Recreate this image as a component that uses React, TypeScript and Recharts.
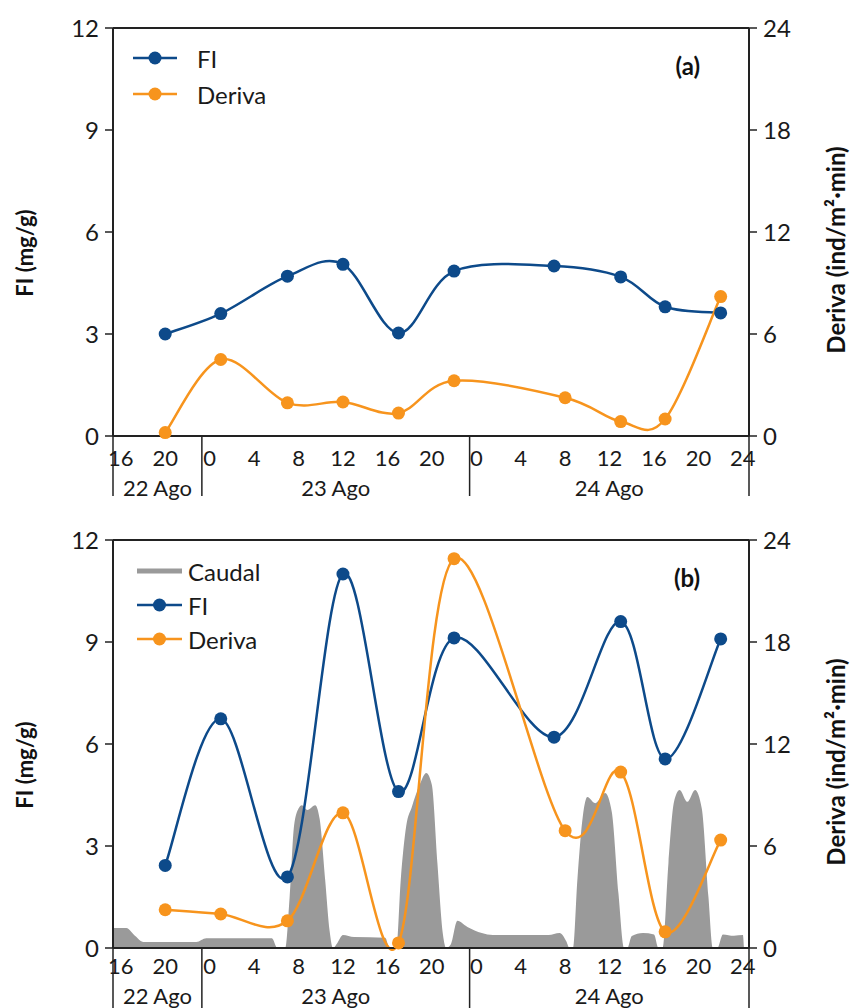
import { Area, ComposedChart, Legend, Line, ReferenceLine, XAxis, YAxis } from 'recharts';

// hours counted from 22 Ago 00:00
const X_MIN = 15.3;
const X_MAX = 72.55;
const HOUR_TICKS = [16, 20, 24, 28, 32, 36, 40, 44, 48, 52, 56, 60, 64, 68, 72];
const DAY_BREAKS = [X_MIN, 23.3, 47.4, X_MAX];
const DAY_LABELS = ['22 Ago', '23 Ago', '24 Ago'];
const FI_TICKS = [0, 3, 6, 9, 12];
const DERIVA_TICKS = [0, 6, 12, 18, 24];

const FI_HOURS = [20, 25, 31, 36, 41, 46, 55, 61, 65, 70];
const DERIVA_HOURS = [20, 25, 31, 36, 41, 46, 56, 61, 65, 70];

const FI_A = [3.0, 3.6, 4.7, 5.05, 3.03, 4.85, 5.0, 4.68, 3.8, 3.62];
const DERIVA_A = [0.2, 4.5, 1.95, 2.0, 1.35, 3.25, 2.25, 0.85, 1.0, 8.2];

const FI_B = [2.43, 6.74, 2.09, 11.0, 4.6, 9.12, 6.2, 9.6, 5.56, 9.09];
const DERIVA_B = [2.25, 2.0, 1.6, 7.95, 0.3, 22.9, 6.9, 10.35, 0.95, 6.35];

const CAUDAL_HOURS = [
  15.3, 16.5, 17.3, 18.0, 22.8, 23.7, 29.6, 30.1, 30.8,
  31.2, 31.6, 32.0, 32.3, 32.8, 33.5, 33.9, 34.4, 34.8, 35.1,
  35.5, 36.0, 37.0, 39.8, 40.2,
  40.8, 41.2, 41.7, 42.2, 42.9, 43.5, 44.0, 44.5, 45.0, 45.3,
  45.7, 46.3, 47.2, 48.5, 49.5, 54.5, 55.5, 56.1, 56.4,
  56.7, 57.1, 57.6, 58.0, 58.7, 59.6, 60.2, 60.8, 61.3,
  61.6, 62.0, 63.0, 64.0, 64.4,
  64.8, 65.3, 65.8, 66.3, 67.0, 67.7, 68.3, 68.9, 69.3,
  69.7, 70.2, 71.2, 72.0, 72.1,
];
const CAUDAL = [
  0.59, 0.59, 0.35, 0.18, 0.18, 0.29, 0.29, 0, 0,
  1.5, 3.6, 4.1, 4.2, 4.06, 4.2, 3.8, 2.0, 0.5, 0,
  0.15, 0.38, 0.32, 0.3, 0,
  0, 2.0, 3.6, 4.15, 4.8, 5.15, 4.8, 2.5, 0.4, 0,
  0.1, 0.8, 0.62, 0.44, 0.38, 0.38, 0.44, 0.2, 0,
  0, 2.0, 3.9, 4.44, 4.26, 4.56, 4.0, 1.6, 0,
  0, 0.35, 0.44, 0.4, 0,
  0, 2.5, 4.3, 4.65, 4.3, 4.65, 4.1, 1.5, 0,
  0, 0.4, 0.36, 0.38, 0,
];

const BLUE = '#0d4a8a';
const ORANGE = '#f7941d';
const GREY = '#9a9a9a';
const AXIS = '#222';
const FONT = 'Lato, "Open Sans", sans-serif';
const SEP_LEN = 60;

const toPoints = (hours: number[], values: number[]) => hours.map((h, i) => ({ h, v: values[i] }));
const DAY_CENTERS = DAY_LABELS.map((_, i) => (DAY_BREAKS[i] + DAY_BREAKS[i + 1]) / 2);

// Excel-like smoothed line (Catmull-Rom through the points)
const smoothCurve = (context: any) => {
  let pts: number[][] = [];
  return {
    areaStart() {},
    areaEnd() {},
    lineStart() {
      pts = [];
    },
    point(x: number, y: number) {
      pts.push([+x, +y]);
    },
    lineEnd() {
      const n = pts.length;
      if (!n) return;
      context.moveTo(pts[0][0], pts[0][1]);
      for (let i = 0; i < n - 1; i++) {
        const p0 = pts[Math.max(i - 1, 0)];
        const p1 = pts[i];
        const p2 = pts[i + 1];
        const p3 = pts[Math.min(i + 2, n - 1)];
        context.bezierCurveTo(
          p1[0] + (p2[0] - p0[0]) / 6,
          p1[1] + (p2[1] - p0[1]) / 6,
          p2[0] - (p3[0] - p1[0]) / 6,
          p2[1] - (p3[1] - p1[1]) / 6,
          p2[0],
          p2[1],
        );
      }
    },
  };
};

// day separators hang below the x axis
const Separator = (props: any) => {
  const bottom = Math.max(props.y1, props.y2);
  return <line x1={props.x1} x2={props.x1} y1={bottom} y2={bottom + SEP_LEN} stroke={AXIS} strokeWidth={1.5} />;
};

const dayLabelShape = (label: string, dy: number) => (props: any) => {
  const bottom = Math.max(props.y1, props.y2);
  return (
    <text
      x={props.x1}
      y={bottom + dy}
      textAnchor="middle"
      dominantBaseline="central"
      fontSize={22}
      fontFamily={FONT}
      fill="#1a1a1a"
    >
      {label}
    </text>
  );
};

const ORDER = ['Caudal', 'FI', 'Deriva'];

function LegendBox({ payload, gap, lineX, textX }: any) {
  const items = [...(payload || [])].sort((a: any, b: any) => ORDER.indexOf(a.value) - ORDER.indexOf(b.value));
  return (
    <svg width={220} height={items.length * gap + 10} style={{ overflow: 'visible' }}>
      {items.map((it: any, i: number) => {
        const y = 18 + i * gap;
        const isArea = it.value === 'Caudal';
        return (
          <g key={it.value}>
            <line
              x1={lineX[0]}
              x2={lineX[1]}
              y1={y}
              y2={y}
              stroke={isArea ? GREY : it.color}
              strokeWidth={isArea ? 5 : 2.5}
            />
            {!isArea && <circle cx={(lineX[0] + lineX[1]) / 2} cy={y} r={6.5} fill={it.color} />}
            <text x={textX} y={y} dominantBaseline="central" fontSize={24} fontFamily={FONT} fill="#1a1a1a">
              {it.value}
            </text>
          </g>
        );
      })}
    </svg>
  );
}

type PanelProps = {
  tag: string;
  fi: number[];
  deriva: number[];
  caudal?: boolean;
  top: number;
  legendTop: number;
  legendGap: number;
  lineX: number[];
  textX: number;
  tagY: number;
  tickGap: number;
  dayDy: number;
};

function Panel(p: PanelProps) {
  const { tag, fi, deriva, caudal, top, legendTop, legendGap, lineX, textX, tagY, tickGap, dayDy } = p;
  const plotH = 408;
  const fiData = toPoints(FI_HOURS, fi);
  const derivaData = toPoints(DERIVA_HOURS, deriva);
  const caudalData = toPoints(CAUDAL_HOURS, CAUDAL);
  const tickStyle = { fontSize: 22, fontFamily: FONT, fill: '#1a1a1a' };
  const yTickStyle = { fontSize: 24, fontFamily: FONT, fill: '#1a1a1a' };
  const bold = { fontFamily: FONT, fontWeight: 700, fill: '#111' } as const;
  const leftY = top + plotH / 2 + 21;
  const rightY = top + plotH / 2 + 18;

  return (
    <ComposedChart width={851} height={504} margin={{ top, right: 0, bottom: 0, left: 0 }}>
      <XAxis
        xAxisId="hours"
        dataKey="h"
        type="number"
        domain={[X_MIN, X_MAX]}
        ticks={HOUR_TICKS}
        interval={0}
        tickFormatter={(h: number) => (h === 72 ? '24' : String(h % 24))}
        tick={tickStyle}
        tickLine={false}
        tickSize={0}
        tickMargin={tickGap}
        height={504 - top - plotH}
        axisLine={{ stroke: AXIS, strokeWidth: 2 }}
      />
      <YAxis
        yAxisId="left"
        domain={[0, 12]}
        ticks={FI_TICKS}
        interval={0}
        width={113}
        tick={yTickStyle}
        tickSize={8}
        tickMargin={6}
        tickLine={{ stroke: AXIS, strokeWidth: 1.5 }}
        axisLine={{ stroke: AXIS, strokeWidth: 2 }}
      />
      <YAxis
        yAxisId="right"
        orientation="right"
        domain={[0, 24]}
        ticks={DERIVA_TICKS}
        interval={0}
        width={102}
        tick={yTickStyle}
        tickSize={8}
        tickMargin={6}
        tickLine={{ stroke: AXIS, strokeWidth: 1.5 }}
        axisLine={{ stroke: AXIS, strokeWidth: 2 }}
      />
      <ReferenceLine xAxisId="hours" yAxisId="left" y={12} stroke={AXIS} strokeWidth={2} />
      {DAY_BREAKS.map((b) => (
        <ReferenceLine key={b} xAxisId="hours" yAxisId="left" x={b} stroke={AXIS} shape={Separator} />
      ))}
      {DAY_CENTERS.map((c, i) => (
        <ReferenceLine
          key={DAY_LABELS[i]}
          xAxisId="hours"
          yAxisId="left"
          x={c}
          stroke="none"
          shape={dayLabelShape(DAY_LABELS[i], dayDy)}
        />
      ))}
      {caudal && (
        <Area
          xAxisId="hours"
          yAxisId="left"
          data={caudalData}
          dataKey="v"
          name="Caudal"
          type="monotone"
          stroke="none"
          fill={GREY}
          fillOpacity={1}
          dot={false}
          activeDot={false}
          isAnimationActive={false}
        />
      )}
      <Line
        xAxisId="hours"
        yAxisId="left"
        data={fiData}
        dataKey="v"
        name="FI"
        type={smoothCurve as any}
        stroke={BLUE}
        strokeWidth={2.5}
        dot={{ r: 6.5, fill: BLUE, stroke: BLUE, strokeWidth: 0 }}
        activeDot={false}
        isAnimationActive={false}
      />
      <Line
        xAxisId="hours"
        yAxisId="right"
        data={derivaData}
        dataKey="v"
        name="Deriva"
        type={smoothCurve as any}
        stroke={ORANGE}
        strokeWidth={2.5}
        dot={{ r: 6.5, fill: ORANGE, stroke: ORANGE, strokeWidth: 0 }}
        activeDot={false}
        isAnimationActive={false}
      />
      <Legend
        layout="vertical"
        align="center"
        verticalAlign="middle"
        wrapperStyle={{ left: 130, top: legendTop, width: 220 }}
        content={(props: any) => <LegendBox {...props} gap={legendGap} lineX={lineX} textX={textX} />}
      />
      <text x={700} y={tagY} textAnchor="end" dominantBaseline="central" fontSize={24} {...bold}>
        {tag}
      </text>
      <text
        x={24}
        y={leftY}
        transform={`rotate(-90 24 ${leftY})`}
        textAnchor="middle"
        dominantBaseline="central"
        fontSize={22}
        {...bold}
      >
        FI (mg/g)
      </text>
      <text
        x={835}
        y={rightY}
        transform={`rotate(-90 835 ${rightY})`}
        textAnchor="middle"
        dominantBaseline="central"
        fontSize={24}
        {...bold}
      >
        Deriva (ind/m²·min)
      </text>
    </ComposedChart>
  );
}

export default function App() {
  return (
    <div style={{ position: 'absolute', left: 0, top: 0, width: 851, height: 1008, background: '#fff' }}>
      <Panel
        tag="(a)"
        fi={FI_A}
        deriva={DERIVA_A}
        top={28}
        legendTop={40}
        legendGap={36}
        lineX={[3, 47]}
        textX={67}
        tagY={65}
        tickGap={14}
        dayDy={51}
      />
      <Panel
        tag="(b)"
        fi={FI_B}
        deriva={DERIVA_B}
        caudal
        top={36}
        legendTop={49}
        legendGap={34}
        lineX={[7, 52]}
        textX={58}
        tagY={73}
        tickGap={10}
        dayDy={47}
      />
    </div>
  );
}
